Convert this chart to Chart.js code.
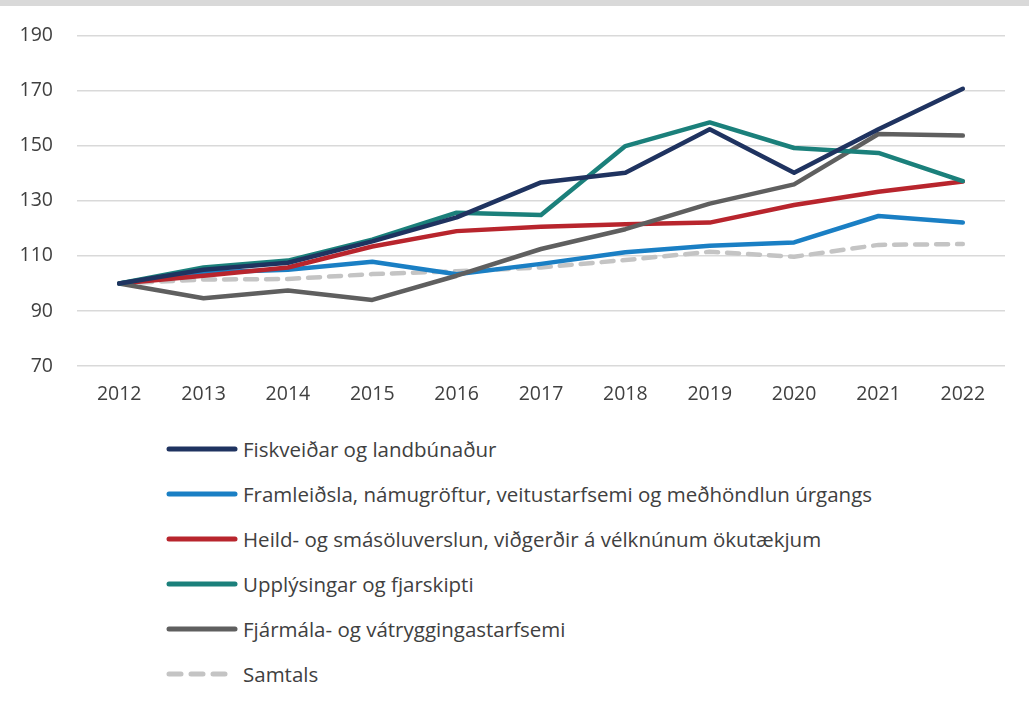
<!DOCTYPE html>
<html>
<head>
<meta charset="utf-8">
<script src="https://cdn.jsdelivr.net/npm/chart.js@4.4.0/dist/chart.umd.min.js"></script>
<style>
  html, body { margin: 0; padding: 0; background: #fff; }
  body { width: 1029px; height: 702px; position: relative; overflow: hidden; font-family: "Open Sans", sans-serif; }
  #topbar { position: absolute; left: 0; top: 0; width: 1029px; height: 6px; background: #d9d9d9; }
  #wrap { position: absolute; left: 0; top: 0; width: 1029px; height: 420px; }
  #legend { position: absolute; left: 166px; top: 426px; }
  .item { height: 45px; display: flex; align-items: center; color: #404040; font-size: 20.5px; }
  .item svg { margin-right: 5px; }
</style>
</head>
<body>
<div id="topbar"></div>
<div id="wrap"><canvas id="myChart"></canvas></div>
<div id="legend"></div>
<script>
const years = ['2012', '2013', '2014', '2015', '2016', '2017', '2018', '2019', '2020', '2021', '2022']
const fiskveidar = [100, 105, 107.5, 115.3, 124, 136.7, 140.2, 156, 140.2, 156, 170.7]
const framleidsla = [100, 104, 105, 107.9, 103.3, 107.1, 111.3, 113.7, 114.9, 124.5, 122.1]
const heildsala = [100, 102.8, 105.8, 113.4, 119, 120.6, 121.5, 122.1, 128.5, 133.3, 137]
const upplysingar = [100, 105.8, 108.3, 115.9, 125.7, 124.9, 149.9, 158.5, 149.2, 147.4, 137.2]
const fjarmala = [100, 94.6, 97.4, 94, 102.8, 112.5, 119.7, 129, 136, 154.3, 153.7]
const samtals = [100, 101.4, 101.6, 103.4, 104.4, 105.8, 108.5, 111.5, 109.7, 114, 114.3]

const names = [
    'Fiskveiðar og landbúnaður',
    'Framleiðsla, námugröftur, veitustarfsemi og meðhöndlun úrgangs',
    'Heild- og smásöluverslun, viðgerðir á vélknúnum ökutækjum',
    'Upplýsingar og fjarskipti',
    'Fjármála- og vátryggingastarfsemi',
    'Samtals'
]
const colors = ['#1f3360', '#1a7fc4', '#b8252d', '#1b807b', '#5f5f5f', '#c4c4c4']
const series = [fiskveidar, framleidsla, heildsala, upplysingar, fjarmala, samtals]

const datasets = series.map((s, i) => ({
    label: names[i],
    data: s,
    borderColor: colors[i],
    backgroundColor: colors[i],
    borderWidth: 4.5,
    borderDash: i === 5 ? [12, 9] : [],
    borderCapStyle: 'round',
    borderJoinStyle: 'round',
    pointRadius: 0,
    tension: 0
}))
// draw order: samtals underneath
const order = [5, 1, 2, 4, 3, 0]
order.forEach((idx, k) => { datasets[idx].order = 6 - k })

const ctx = document.getElementById('myChart').getContext('2d')
const myChart = new Chart(ctx, {
    type: 'line',
    data: { labels: years, datasets: datasets },
    options: {
        responsive: true,
        maintainAspectRatio: false,
        animation: false,
        layout: { padding: { left: 0, right: 24, top: 26, bottom: 0 } },
        scales: {
            x: {
                offset: true,
                grid: { display: false, drawTicks: false },
                border: { display: false },
                ticks: { color: '#404040', font: { family: 'Open Sans', size: 19.5 }, padding: 17 },
                afterFit: (s) => { s.height = 54 }
            },
            y: {
                min: 70,
                max: 190,
                grid: { color: '#d9d9d9', lineWidth: 1.5, drawTicks: false },
                border: { display: false },
                ticks: { stepSize: 20, color: '#404040', font: { family: 'Open Sans', size: 19.5 }, padding: 24 },
                afterFit: (s) => { s.width = 77 }
            }
        },
        plugins: {
            legend: { display: false },
            tooltip: { enabled: false }
        }
    }
})

const legend = document.getElementById('legend')
datasets.forEach((d, i) => {
    const row = document.createElement('div')
    row.className = 'item'
    const dash = i === 5 ? 'stroke-dasharray="12 10"' : ''
    row.innerHTML = '<svg width="72" height="10"><line x1="3" y1="5" x2="69" y2="5" stroke="' + d.borderColor +
        '" stroke-width="5" stroke-linecap="round" ' + dash + '/></svg><span>' + d.label + '</span>'
    legend.appendChild(row)
})
</script>
</body>
</html>
